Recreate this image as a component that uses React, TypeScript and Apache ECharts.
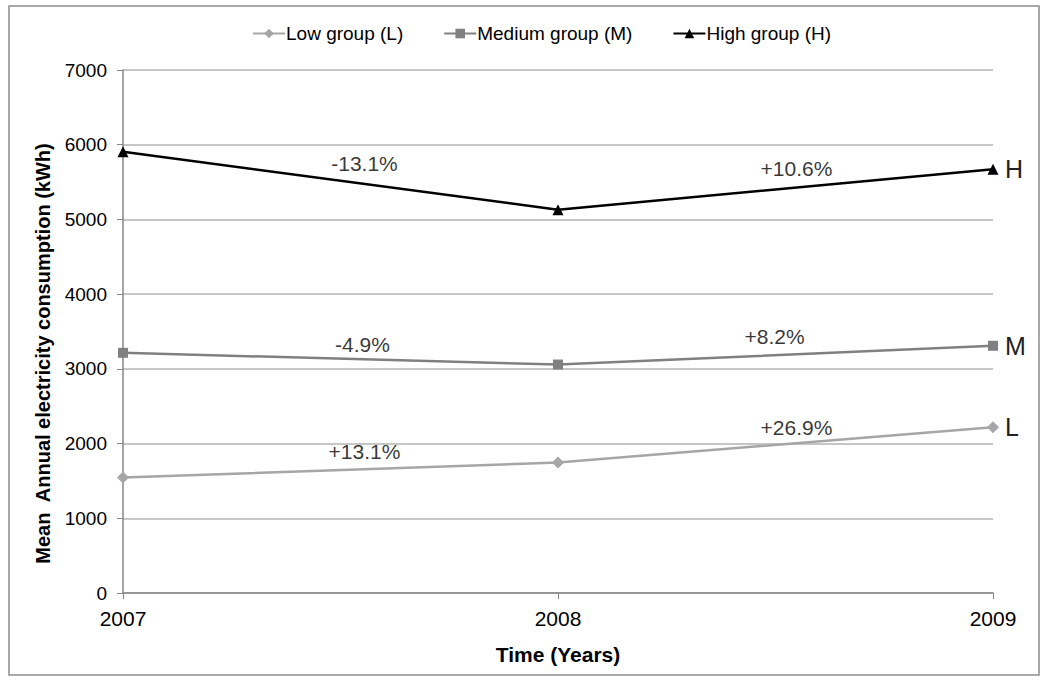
import React, { useEffect, useRef } from "react";
import * as echarts from "echarts";

// Years on the horizontal axis
const years = [2007, 2008, 2009];

// Mean annual electricity consumption per group (kWh)
const lowValues = [1545, 1747, 2217];
const mediumValues = [3215, 3058, 3309];
const highValues = [5905, 5130, 5673];

// Year-on-year change labels for each segment (2007→2008, 2008→2009)
const lowChanges = ["+13.1%", "+26.9%"];
const mediumChanges = ["-4.9%", "+8.2%"];
const highChanges = ["-13.1%", "+10.6%"];

const yTicks = { min: 0, max: 7000, interval: 1000 };

const FONT = "'Liberation Sans', Arial, Helvetica, sans-serif";

// small pixel nudges for the change labels, per segment
const highNudge = [[24, -2], [21, -5]];
const mediumNudge = [[22, 1], [-1, -3]];
const lowNudge = [[24, -3], [21, -2]];

function segmentLabels(values: number[], texts: string[], nudges: number[][]) {
  return texts.map((t, i) => ({
    value: [(years[i] + years[i + 1]) / 2, (values[i] + values[i + 1]) / 2],
    label: { formatter: t, offset: nudges[i] },
  }));
}

export default function App() {
  const ref = useRef<HTMLDivElement>(null);

  useEffect(() => {
    if (!ref.current) return;
    const chart = echarts.init(ref.current, null, { renderer: "svg" });

    const lineSeries = (
      name: string,
      values: number[],
      color: string,
      symbol: string,
      symbolSize: number,
      endText: string
    ) => ({
      name,
      type: "line",
      data: values.map((v, i) => [years[i], v]),
      symbol,
      symbolSize,
      showAllSymbol: true,
      lineStyle: { color, width: 2.5 },
      itemStyle: { color },
      endLabel: {
        show: true,
        formatter: endText,
        distance: 12,
        fontSize: 25,
        fontFamily: FONT,
        color: "#222",
      },
      z: 3,
    });

    const labelSeries = (data: any[]) => ({
      type: "scatter",
      data,
      symbolSize: 0,
      silent: true,
      label: {
        show: true,
        position: "top",
        distance: 5,
        fontSize: 21,
        fontFamily: FONT,
        color: "#000",
      },
      z: 4,
    });

    chart.setOption({
      animation: false,
      backgroundColor: "#fff",
      textStyle: { fontFamily: FONT },
      graphic: [
        {
          type: "rect",
          shape: { x: 9, y: 6, width: 1030, height: 669 },
          style: { fill: "none", stroke: "#8c8c8c", lineWidth: 1.5 },
          silent: true,
          z: -1,
        },
      ],
      legend: {
        data: ["Low group (L)", "Medium group (M)", "High group (H)"],
        left: 247,
        top: 19,
        itemWidth: 32,
        itemHeight: 12,
        itemGap: 40,
        textStyle: { fontSize: 19, color: "#000", fontFamily: FONT, padding: [0, 0, 0, -4] },
      },
      grid: { left: 123, right: 53, top: 70, bottom: 87 },
      xAxis: {
        type: "value",
        min: years[0],
        max: years[years.length - 1],
        interval: 1,
        name: "Time (Years)",
        nameLocation: "middle",
        nameGap: 51,
        nameTextStyle: { fontSize: 21, fontWeight: "bold", color: "#000", fontFamily: FONT },
        axisLine: { show: true, lineStyle: { color: "#868686", width: 1.5 } },
        axisTick: { show: true, length: 6, lineStyle: { color: "#868686" } },
        axisLabel: { fontSize: 21, color: "#000", margin: 15, formatter: (v: number) => String(v), fontFamily: FONT },
        splitLine: { show: false },
      },
      yAxis: {
        type: "value",
        min: yTicks.min,
        max: yTicks.max,
        interval: yTicks.interval,
        name: "Mean\u00a0 Annual electricity consumption (kWh)",
        nameLocation: "middle",
        nameGap: 70,
        nameTextStyle: {
          fontSize: 20,
          fontWeight: "bold",
          color: "#000",
          fontFamily: FONT,
          padding: [0, 44, 0, 0],
        },
        axisLine: { show: true, lineStyle: { color: "#868686", width: 1.5 } },
        axisTick: { show: true, length: 6, lineStyle: { color: "#868686" } },
        axisLabel: { fontSize: 19, color: "#000", margin: 16, fontFamily: FONT, formatter: (v: number) => String(v) },
        splitLine: { show: true, lineStyle: { color: "#b3b3b3", width: 1.5 } },
      },
      series: [
        lineSeries("Low group (L)", lowValues, "#a6a6a6", "diamond", 12, "L"),
        lineSeries("Medium group (M)", mediumValues, "#808080", "rect", 10, "M"),
        lineSeries("High group (H)", highValues, "#000000", "triangle", 11, "H"),
        labelSeries(segmentLabels(highValues, highChanges, highNudge)),
        labelSeries(segmentLabels(mediumValues, mediumChanges, mediumNudge)),
        labelSeries(segmentLabels(lowValues, lowChanges, lowNudge)),
      ],
    });

    return () => chart.dispose();
  }, []);

  return (
    <div
      ref={ref}
      style={{ position: "fixed", left: 0, top: 0, width: 1046, height: 680, background: "#fff" }}
    />
  );
}
